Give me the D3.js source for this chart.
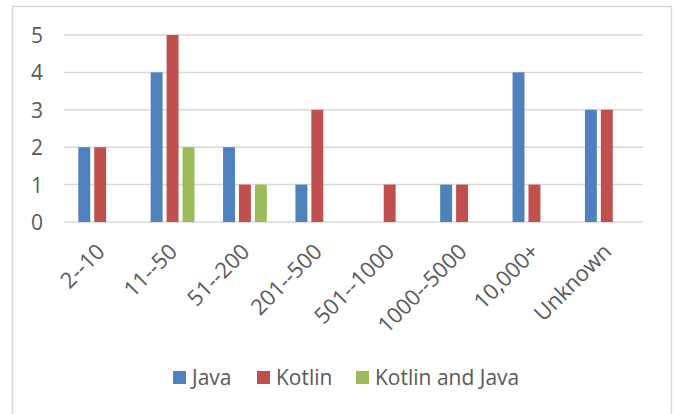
<!DOCTYPE html>
<html>
<head>
<meta charset="utf-8">
<script src="https://cdn.jsdelivr.net/npm/d3@7"></script>
<style>
  body { margin: 0; background: #fff; }
  text { font-family: "Open Sans", sans-serif; fill: #595959; }
</style>
</head>
<body>
<svg id="chart" width="675" height="414"></svg>
<script>
// categories and series values
var categories = ["2--10", "11--50", "51--200", "201--500", "501--1000", "1000--5000", "10,000+", "Unknown"];
var seriesNames = ["Java", "Kotlin", "Kotlin and Java"];
var javaValues = [2, 4, 2, 1, 0, 1, 4, 3];
var kotlinValues = [2, 5, 1, 3, 1, 1, 1, 3];
var bothValues = [0, 2, 1, 0, 0, 0, 0, 0];
var yTicks = [0, 1, 2, 3, 4, 5];
var colors = ["#4f81bd", "#c0504d", "#9bbb59"];

var width = 675, height = 414;
var margin = { left: 64, right: 32, top: 35, bottom: 192 };

var svg = d3.select("#chart");

// outer chart border
svg.append("rect")
  .attr("x", 12.5)
  .attr("y", 6.5)
  .attr("width", 659)
  .attr("height", 420)
  .attr("fill", "none")
  .attr("stroke", "#d9d9d9")
  .attr("stroke-width", 1.5);

var x0 = d3.scaleBand()
  .domain(categories)
  .range([margin.left, width - margin.right]);

var x1 = d3.scaleBand()
  .domain(seriesNames)
  .range([x0.bandwidth() * 0.17, x0.bandwidth() * 0.83]);

var y = d3.scaleLinear()
  .domain([0, 5])
  .range([height - margin.bottom, margin.top]);

// gridlines
svg.append("g")
  .selectAll("line")
  .data(yTicks)
  .join("line")
  .attr("x1", margin.left)
  .attr("x2", width - margin.right)
  .attr("y1", d => y(d))
  .attr("y2", d => y(d))
  .attr("stroke", "#d9d9d9")
  .attr("stroke-width", 1.5);

// y axis labels
var yAxis = svg.append("g")
  .attr("transform", "translate(" + (margin.left - 21) + ",0)")
  .call(d3.axisLeft(y).tickValues(yTicks).tickSize(0).tickPadding(0).tickFormat(d3.format("d")));
yAxis.select(".domain").remove();
yAxis.selectAll("text")
  .attr("dy", "0.36em")
  .style("font-size", "21px")
  .style("fill", "#595959")
  .style("font-family", "'Open Sans', sans-serif");

// bars
var rows = categories.map(function (c, i) {
  return { cat: c, vals: [javaValues[i], kotlinValues[i], bothValues[i]] };
});

var groups = svg.append("g")
  .selectAll("g")
  .data(rows)
  .join("g")
  .attr("transform", d => "translate(" + x0(d.cat) + ",0)");

groups.selectAll("rect")
  .data(d => d.vals.map((v, k) => ({ name: seriesNames[k], value: v, k: k })))
  .join("rect")
  .filter(d => d.value > 0)
  .attr("x", d => x1(d.name) + 2)
  .attr("width", x1.bandwidth() - 4)
  .attr("y", d => y(d.value))
  .attr("height", d => y(0) - y(d.value))
  .attr("fill", d => colors[d.k]);

// x axis labels, rotated
var xAxis = svg.append("g")
  .attr("transform", "translate(0," + (height - margin.bottom) + ")")
  .call(d3.axisBottom(x0).tickSize(0).tickPadding(0));
xAxis.select(".domain").remove();
xAxis.selectAll("text")
  .attr("y", 0)
  .attr("x", 0)
  .attr("dy", 0)
  .attr("transform", "translate(6,31) rotate(-45)")
  .style("text-anchor", "end")
  .style("font-size", "22px")
  .style("fill", "#595959")
  .style("font-family", "'Open Sans', sans-serif");

// legend
var legendX = [173, 257, 356];
var legend = svg.append("g")
  .selectAll("g")
  .data(seriesNames)
  .join("g")
  .attr("transform", (d, i) => "translate(" + legendX[i] + ",371)");

legend.append("rect")
  .attr("width", 13)
  .attr("height", 13)
  .attr("fill", (d, i) => colors[i]);

legend.append("text")
  .attr("x", 19)
  .attr("y", 14)
  .style("font-size", "21px")
  .text(d => d);
</script>
</body>
</html>
